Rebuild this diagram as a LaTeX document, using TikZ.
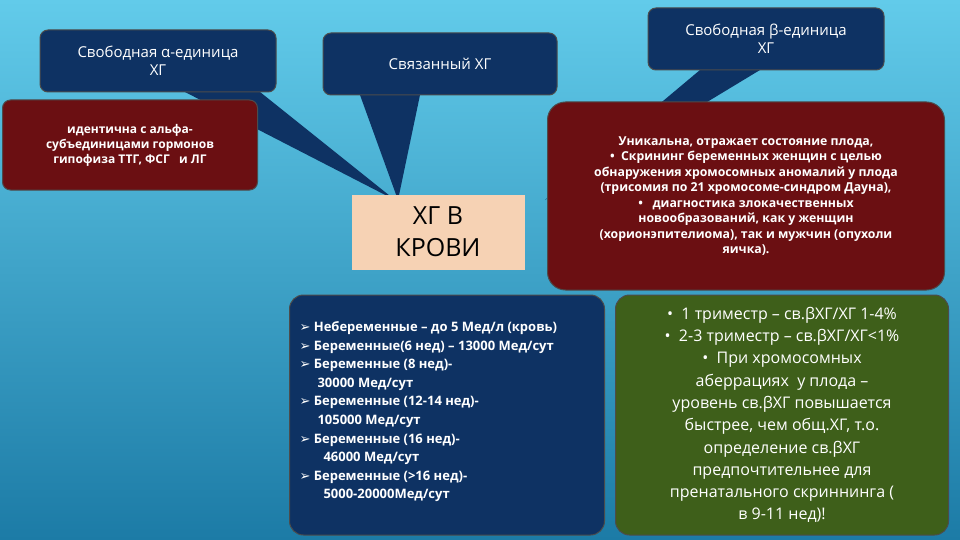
\documentclass[tikz,border=0pt]{standalone}
\usepackage{fontspec}
\setmainfont{Open Sans}
\newfontfamily\symf{DejaVu Sans}
\newcommand{\arr}{{\symf ➢}}
\definecolor{navy}{HTML}{0E3263}
\definecolor{wine}{HTML}{6B0F12}
\definecolor{peach}{HTML}{F6D2B4}
\definecolor{olive}{HTML}{3E5F1A}
\definecolor{bgtop}{HTML}{62CBEA}
\definecolor{bgbot}{HTML}{1C7BA6}
\begin{document}
\begin{tikzpicture}[x=1pt,y=-1pt,
  box/.style={rounded corners=8pt,draw=black!70,line width=1pt},
  wt/.style={text=white,align=center,font=\fontsize{15}{18}\selectfont}]
\useasboundingbox (0,0) rectangle (960,540);
\shade[top color=bgtop,bottom color=bgbot] (0,0) rectangle (960,540);
% pointers
\fill[navy] (185,92) -- (260,92) -- (395,200) -- cycle;
\fill[navy] (360,95) -- (420,95) -- (398,200) -- cycle;
\fill[navy] (700,70) -- (760,70) -- (545,200) -- cycle;
% boxes
\node[box,fill=navy,minimum width=236pt,minimum height=62pt,wt] (alpha) at (158,61) {Свободная α-единица\\ХГ};
\node[box,fill=navy,minimum width=234pt,minimum height=62pt,wt] (bound) at (440,64) {Связанный ХГ};
\node[box,fill=navy,minimum width=236pt,minimum height=62pt,wt] (beta) at (766,39) {Свободная β-единица\\ХГ};
\node[box,fill=wine,minimum width=255pt,minimum height=90pt,text=white,align=center,font=\bfseries\fontsize{12}{15}\selectfont] (lred) at (130,145) {идентична с альфа-\\субъединицами гормонов\\гипофиза ТТГ, ФСГ \ \ и ЛГ};
\node[fill=peach,minimum width=173pt,minimum height=75pt,align=center,font=\fontsize{25}{32}\selectfont,text=black] (center) at (438,232) {ХГ В\\КРОВИ};
\node[box,rounded corners=18pt,fill=wine,minimum width=397pt,minimum height=188pt,text=white,align=center,font=\bfseries\fontsize{12.3}{15.5}\selectfont] (rred) at (746,196) {Уникальна, отражает состояние плода,\\ \textbullet\ \ Скрининг беременных женщин с целью\\обнаружения хромосомных аномалий у плода\\(трисомия по 21 хромосоме-синдром Дауна),\\ \textbullet\ \ \ диагностика злокачественных\\новообразований, как у женщин\\(хорионэпителиома), так и мужчин (опухоли\\яичка).};
\node[box,rounded corners=14pt,fill=navy,minimum width=315pt,minimum height=240pt] (blue) at (447,415) {};
\node[anchor=north west,text=white,align=left,font=\bfseries\fontsize{13}{18.6}\selectfont] (blist) at (296,318) {%
\arr\ Небеременные – до 5 Мед/л (кровь)\\
\arr\ Беременные(6 нед) – 13000 Мед/сут\\
\arr\ Беременные (8 нед)-\\
\hspace*{18pt}30000 Мед/сут\\
\arr\ Беременные (12-14 нед)-\\
\hspace*{18pt}105000 Мед/сут\\
\arr\ Беременные (16 нед)-\\
\hspace*{24pt}46000 Мед/сут\\
\arr\ Беременные (>16 нед)-\\
\hspace*{24pt}5000-20000Мед/сут};
\node[box,rounded corners=14pt,fill=olive,minimum width=333pt,minimum height=240pt,text=white,align=center,font=\fontsize{16}{22.3}\selectfont] (green) at (782,415) {%
\textbullet\ \ 1 триместр – св.βХГ/ХГ 1-4\%\\
\textbullet\ \ 2-3 триместр – св.βХГ/ХГ<1\%\\
\textbullet\ \ При хромосомных\\
аберрациях \ у плода –\\
уровень св.βХГ повышается\\
быстрее, чем общ.ХГ, т.о.\\
определение св.βХГ\\
предпочтительнее для\\
пренатального скриннинга (\\
в 9-11 нед)!};
\end{tikzpicture}
\end{document}
